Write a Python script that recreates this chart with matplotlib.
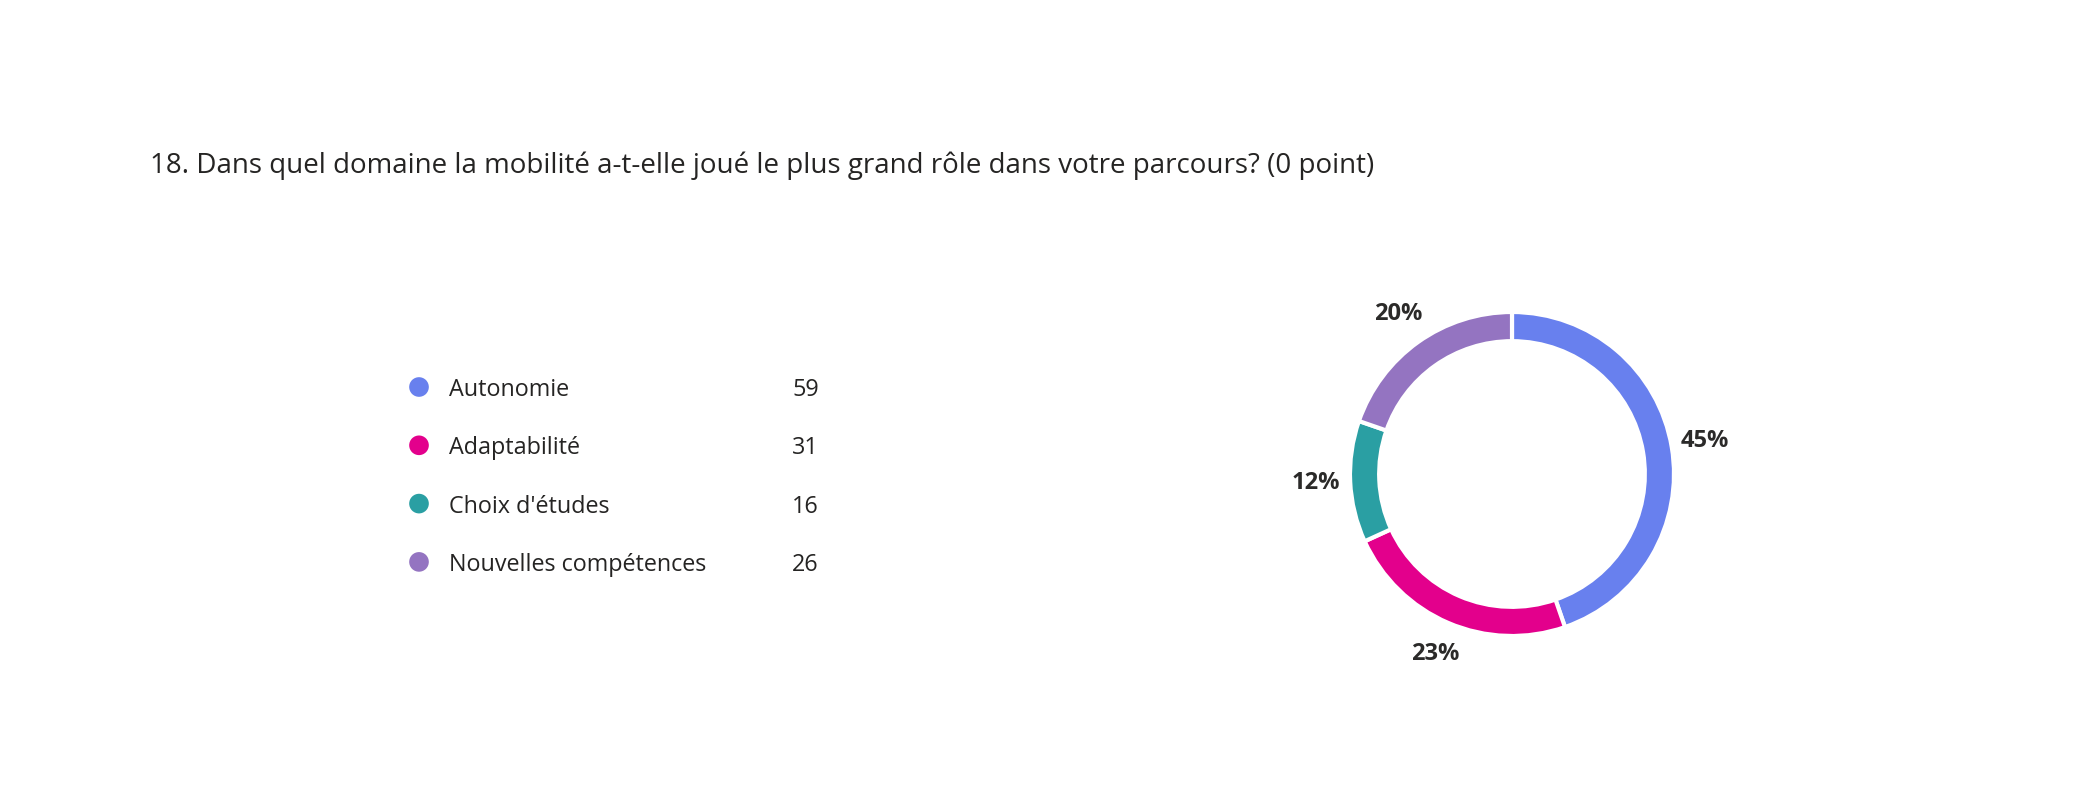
import matplotlib
matplotlib.use("Agg")
import matplotlib.pyplot as plt
import numpy as np

title = "18. Dans quel domaine la mobilité a-t-elle joué le plus grand rôle dans votre parcours? (0 point)"
categories = ["Autonomie", "Adaptabilité", "Choix d'études", "Nouvelles compétences"]
counts = [59, 31, 16, 26]
colors = ["#6880EE", "#E3008C", "#2A9FA3", "#9474C1"]

W, H = 2095, 811
fig = plt.figure(figsize=(W / 100, H / 100), dpi=100)
ax = fig.add_axes([0, 0, 1, 1])
FONT = "Open Sans"
TXT = "#252423"

total = sum(counts)
cx, cy, R = 1512, H - 474, 162
wedges, _ = ax.pie(counts, colors=colors, startangle=90, counterclock=False,
                   center=(cx, cy), radius=R,
                   wedgeprops=dict(width=R * 0.18, edgecolor="white", linewidth=3))
start = 90.0
for v in counts:
    sweep = v / total * 360
    mid = np.deg2rad(start - sweep / 2)
    start -= sweep
    ax.text(cx + 1.21 * R * np.cos(mid), cy + 1.21 * R * np.sin(mid),
            f"{round(v / total * 100)}%", ha="center", va="center",
            fontsize=17, fontweight="bold", color="#2b2a29", family=FONT)

ax.set_xlim(0, W)
ax.set_ylim(0, H)
ax.set_aspect("equal")
ax.axis("off")

ax.text(150, H - 173, title, fontsize=20.0, color=TXT, family=FONT, va="baseline")

row0, step = 387, 58.3
for i, (c, n, col) in enumerate(zip(categories, counts, colors)):
    y = H - (row0 + i * step)
    ax.scatter([419], [y], s=200, color=col, edgecolor="none")
    ax.text(449, y - 9, c, fontsize=16.8, color=TXT, family=FONT, va="baseline")
    ax.text(792, y - 9, str(n), fontsize=16.8, color=TXT, family=FONT, va="baseline")

fig.savefig("out.png", dpi=100)
